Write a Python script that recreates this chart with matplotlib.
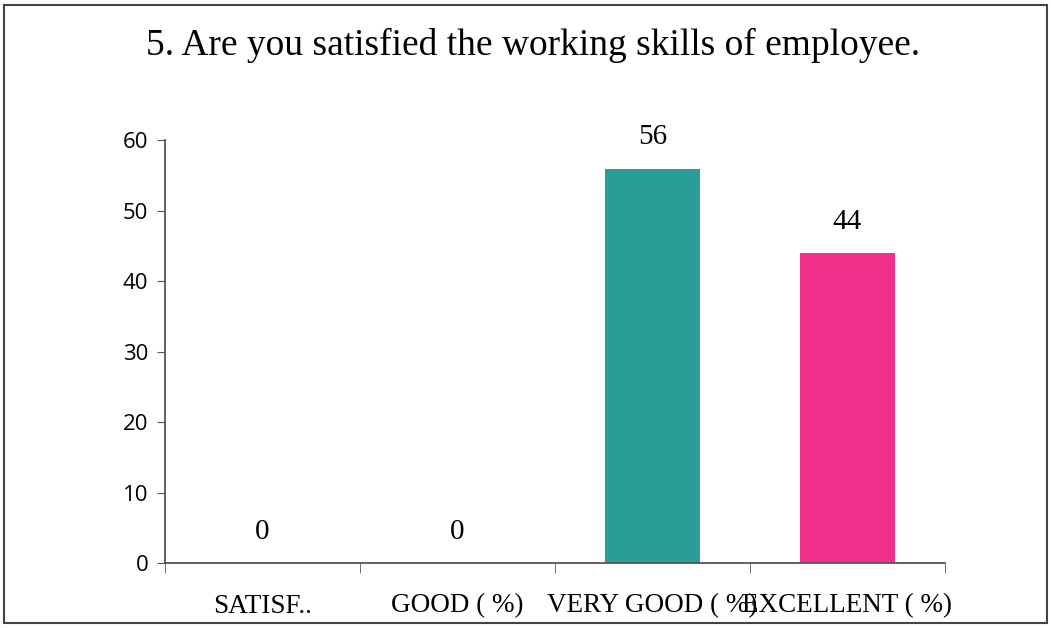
import numpy as np
import matplotlib.pyplot as plt
from matplotlib.patches import Rectangle

categories = ['SATISF..', 'GOOD ( %)', 'VERY GOOD ( %)', 'EXCELLENT ( %)']
values = [0, 0, 56, 44]
colors = ['#2a9d98', '#2a9d98', '#2a9d98', '#f0318a']
yticks = [0, 10, 20, 30, 40, 50, 60]
title = '5. Are you satisfied the working skills of employee.'

serif = 'Liberation Serif'
sans = 'Open Sans'

fig = plt.figure(figsize=(10.51, 6.28), dpi=100)
ax = fig.add_axes([0.157, 0.1035, 0.742, 0.673])

x = np.arange(len(categories))
bars = ax.bar(x, values, width=0.49, color=colors)

for xi, v in zip(x, values):
    ax.annotate(str(v), (xi, v), xytext=(0, 13), textcoords='offset points',
                ha='center', va='bottom', fontsize=21, family=serif)

ax.set_xlim(-0.5, len(categories) - 0.5)
ax.set_ylim(0, 60)
ax.set_yticks(yticks)
ax.set_yticklabels([str(t) for t in yticks], fontsize=16, family=sans)

ax.set_xticks(x)
ax.set_xticklabels(categories, fontsize=19.5, family=serif)
ax.tick_params(axis='x', which='major', length=0, pad=22)
ax.set_xticks(np.arange(len(categories) + 1) - 0.5, minor=True)
ax.tick_params(axis='x', which='minor', length=7, color='#555555', direction='out')
ax.tick_params(axis='y', length=6, color='#555555', direction='out', pad=6)

for s in ['top', 'right']:
    ax.spines[s].set_visible(False)
for s in ['left', 'bottom']:
    ax.spines[s].set_color('#555555')
    ax.spines[s].set_linewidth(1.3)

fig.text(0.507, 0.928, title, ha='center', va='center', fontsize=27, family=serif)

fig.patches.append(Rectangle((0.004, 0.008), 0.992, 0.984, transform=fig.transFigure,
                             fill=False, edgecolor='#444444', linewidth=1.5))

fig.savefig('out.png', dpi=100)
